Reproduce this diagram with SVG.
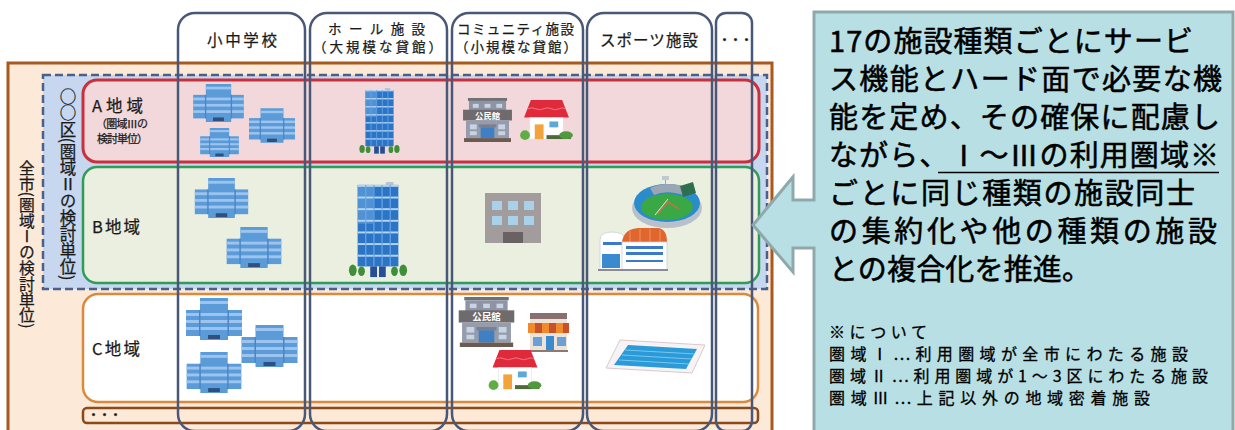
<svg xmlns="http://www.w3.org/2000/svg" xmlns:xlink="http://www.w3.org/1999/xlink" width="1235" height="430" viewBox="0 0 1235 430">
<style>
.t{font-family:"Noto Sans CJK JP","Noto Sans",sans-serif;fill:#1a1a1a;stroke:#1a1a1a;stroke-width:0.25}
.hd{font-size:13.5px}
.hb{font-size:15.5px}
.lb{font-size:16.5px}
.sm{font-size:11px}
.v{writing-mode:vertical-rl}
.col{fill:none;stroke:#4a5878;stroke-width:2.5}
.ct{font-family:"Noto Sans CJK JP","Noto Sans",sans-serif;fill:#000;font-size:29px;stroke:#000;stroke-width:0.55}
.cs{font-family:"Noto Sans CJK JP","Noto Sans",sans-serif;fill:#000;font-size:16px;stroke:#000;stroke-width:0.3}
</style>
<defs>
<symbol id="school" viewBox="0 0 56 42">
<rect x="14" y="0" width="28" height="42" fill="#5b9bd8"/>
<rect x="0" y="12" width="56" height="26" fill="#5b9bd8"/>
<g fill="#9cc4ee">
<rect x="14" y="3" width="28" height="3"/>
<rect x="0" y="15" width="56" height="3"/>
<rect x="0" y="22" width="56" height="3"/>
<rect x="0" y="29" width="56" height="3"/>
</g>
<g fill="#4a86c6"><rect x="13" y="12" width="1.5" height="26"/><rect x="41.5" y="12" width="1.5" height="26"/></g>
<rect x="22" y="37" width="12" height="4" fill="#2f4f7f"/>
</symbol>
<symbol id="tower" viewBox="0 0 60 100">
<rect x="38" y="0" width="8" height="3" fill="#b8c4d0"/>
<rect x="9" y="3" width="42" height="84" fill="#2b74c6"/>
<rect x="9" y="3" width="16" height="40" fill="#6aa6e0" opacity="0.6"/>
<g fill="#b4d4f2">
<rect x="9" y="3" width="42" height="2"/><rect x="9" y="15" width="42" height="2"/><rect x="9" y="27" width="42" height="2"/><rect x="9" y="39" width="42" height="2"/><rect x="9" y="51" width="42" height="2"/><rect x="9" y="63" width="42" height="2"/><rect x="9" y="75" width="42" height="2"/>
</g>
<g stroke="#6aa8e8" stroke-width="1.2"><line x1="17.4" y1="3" x2="17.4" y2="87"/><line x1="25.8" y1="3" x2="25.8" y2="87"/><line x1="34.2" y1="3" x2="34.2" y2="87"/><line x1="42.6" y1="3" x2="42.6" y2="87"/></g>
<rect x="22" y="87" width="7" height="11" fill="#254f96"/>
<rect x="31" y="87" width="7" height="11" fill="#254f96"/>
<g fill="#3f8f3a"><ellipse cx="4" cy="91" rx="4" ry="6"/><ellipse cx="13" cy="92" rx="3.5" ry="5"/><ellipse cx="47" cy="92" rx="3.5" ry="5"/><ellipse cx="56" cy="91" rx="4" ry="6"/></g>
</symbol>
<symbol id="hall" viewBox="0 0 50 45">
<rect x="5" y="0" width="40" height="3" fill="#6f7178"/>
<rect x="6" y="3" width="38" height="10" fill="#8e94a4"/>
<g fill="#c8d4e4"><rect x="10" y="6" width="6" height="4"/><rect x="22" y="6" width="6" height="4"/><rect x="34" y="6" width="6" height="4"/></g>
<rect x="0" y="12" width="50" height="11" fill="#6f6a6c"/>
<text x="25" y="21" text-anchor="middle" font-family="Noto Sans CJK JP,sans-serif" font-size="8.5" font-weight="bold" fill="#fff">公民館</text>
<rect x="3" y="23" width="44" height="18" fill="#959cab"/>
<g fill="#c8d4e4"><rect x="7" y="27" width="7" height="5"/><rect x="36" y="27" width="7" height="5"/><rect x="7" y="34" width="7" height="4"/><rect x="36" y="34" width="7" height="4"/></g>
<rect x="16" y="27" width="18" height="3" fill="#7a8090"/>
<rect x="18" y="30" width="14" height="11" fill="#3f7fc4"/>
<rect x="1" y="41" width="48" height="4" fill="#6c5b52"/>
</symbol>
<symbol id="house" viewBox="0 0 54 42">
<path d="M11 0 H43 L50 18 H4 Z" fill="#e02a3c"/>
<path d="M8 9 q4 -2 8 0 t8 0 t8 0 t8 0 t6 0" stroke="#f27a86" stroke-width="1" fill="none"/>
<rect x="10" y="18" width="34" height="22" fill="#fff" stroke="#e2e2e2" stroke-width="0.6"/>
<rect x="15" y="25" width="9" height="15" fill="#f2a43a"/>
<rect x="30" y="22" width="9" height="6" fill="#5aa8dc"/>
<circle cx="5" cy="36" r="5" fill="#5fae45"/>
<rect x="27" y="36" width="25" height="4" fill="#4d6a3a"/>
<ellipse cx="47" cy="36" rx="7" ry="4" fill="#4f9a3e"/>
</symbol>
</defs>
<rect width="1235" height="430" fill="#fff"/>

<g id="region-zenshi">
<rect x="8" y="63" width="764" height="372" fill="#fde9d8" stroke="#a65a20" stroke-width="3"/>
<text class="t v" x="27" y="160" style="font-size:15.8px">全市(圏域Ⅰの検討単位)</text>
</g>

<g id="region-ku">
<rect x="43" y="75" width="724" height="214" fill="#c6d7ef" stroke="#4a5f8a" stroke-width="2.5" stroke-dasharray="8 4"/>
<text class="t v" x="68" y="88" style="font-size:16.5px">○○区(圏域Ⅱの検討単位)</text>
</g>

<g id="region-a">
<rect x="83" y="80" width="676" height="82" rx="14" fill="#f2d8da" stroke="#c9303d" stroke-width="3"/>
<text class="t lb" x="92" y="112" textLength="51">A地域</text>
<text class="t sm" x="96" y="128" textLength="52">（圏域Ⅲの</text>
<text class="t sm" x="97" y="143" textLength="51">検討単位）</text>
<use xlink:href="#school" x="192" y="84" width="53" height="38"/>
<use xlink:href="#school" x="249" y="108" width="46" height="35"/>
<use xlink:href="#school" x="199" y="128" width="41" height="29"/>
<use xlink:href="#tower" x="359" y="88" width="41" height="67"/>
<use xlink:href="#hall" x="463" y="98" width="49" height="44"/>
<use xlink:href="#house" x="520" y="100" width="53" height="41"/>
</g>

<g id="region-b">
<rect x="83" y="167" width="676" height="116" rx="14" fill="#ebefdf" stroke="#2f9c5a" stroke-width="2.5"/>
<text class="t lb" x="92" y="233" textLength="48">B地域</text>
<use xlink:href="#school" x="193" y="178" width="57" height="40"/>
<use xlink:href="#school" x="226" y="227" width="56" height="41"/>
<use xlink:href="#tower" x="348" y="182" width="60" height="97"/>
<g id="icon-office">
<rect x="485" y="193" width="56" height="50" fill="#a39c9c"/>
<g fill="#a9d1ea"><rect x="492" y="201" width="10" height="9"/><rect x="508" y="201" width="10" height="9"/><rect x="524" y="201" width="10" height="9"/><rect x="492" y="216" width="10" height="9"/><rect x="508" y="216" width="10" height="9"/><rect x="524" y="216" width="10" height="9"/></g>
<rect x="503" y="232" width="20" height="11" fill="#6a6262"/>
</g>
<g id="icon-stadium">
<ellipse cx="667" cy="208" rx="35" ry="20" fill="#b8c0cc"/>
<ellipse cx="667" cy="203" rx="33" ry="19" fill="#2b8ccc"/>
<path d="M650 188 Q667 180 690 188 L686 196 Q667 189 654 195 Z" fill="#9aa6b4"/>
<polygon points="680,186 693,182 696,193 683,197" fill="#2f6e4e"/>
<ellipse cx="667" cy="207" rx="26" ry="13" fill="#3aa844"/>
<path d="M657 214 L668 202 L679 209" stroke="#b07a4a" stroke-width="2" fill="none"/>
<path d="M655 215 L668 199" stroke="#fff" stroke-width="0.8"/>
<rect x="662" y="176" width="7" height="4" fill="#c0c8d0"/>
<line x1="665.5" y1="180" x2="665.5" y2="186" stroke="#98a4b0" stroke-width="1"/>
</g>
<g id="icon-gym">
<path d="M600 270 V240 Q600 232 612 232 Q624 232 626 240 V270 Z" fill="#fff" stroke="#c8d0dc" stroke-width="0.8"/>
<g fill="#3a7ac8"><rect x="603" y="242" width="19" height="3"/></g>
<rect x="602" y="254" width="18" height="14" fill="#3a8ad0"/>
<path d="M622 242 Q624 228 640 228 H658 Q667 229 667 242 Z" fill="#e0662e"/>
<g stroke="#f0a070" stroke-width="0.8"><line x1="630" y1="231" x2="630" y2="242"/><line x1="640" y1="229" x2="640" y2="242"/><line x1="650" y1="229" x2="650" y2="242"/><line x1="660" y1="230" x2="660" y2="242"/></g>
<rect x="622" y="242" width="45" height="28" fill="#fff" stroke="#c8d0dc" stroke-width="0.8"/>
<g fill="#3a7ac8"><rect x="626" y="246" width="37" height="3"/><rect x="626" y="252" width="37" height="3"/><rect x="626" y="260" width="37" height="2"/></g>
<rect x="598" y="269" width="70" height="2" fill="#8a8a9a"/>
</g>
</g>

<g id="region-c">
<rect x="83" y="294" width="675" height="108" rx="15" fill="#fff" stroke="#d98a3c" stroke-width="2.5"/>
<text class="t lb" x="92" y="355" textLength="48">C地域</text>
<use xlink:href="#school" x="186" y="298" width="56" height="42"/>
<use xlink:href="#school" x="241" y="325" width="57" height="42"/>
<use xlink:href="#school" x="186" y="352" width="56" height="41"/>
<use xlink:href="#hall" x="458" y="297" width="57" height="50"/>
<g id="icon-shop">
<rect x="530" y="313" width="37" height="6" fill="#8b6f6f"/>
<rect x="530" y="319" width="37" height="32" fill="#ece2d8"/>
<g><rect x="528" y="323" width="7" height="10" fill="#f08a2a"/><rect x="535" y="323" width="7" height="10" fill="#c8502a"/><rect x="542" y="323" width="7" height="10" fill="#f08a2a"/><rect x="549" y="323" width="7" height="10" fill="#c8502a"/><rect x="556" y="323" width="7" height="10" fill="#f08a2a"/><rect x="563" y="323" width="6" height="10" fill="#c8502a"/></g>
<rect x="533" y="337" width="9" height="9" fill="#6aa0d8"/>
<rect x="546" y="336" width="8" height="15" fill="#3a8ad0"/>
<rect x="557" y="337" width="9" height="9" fill="#6aa0d8"/>
<rect x="529" y="350" width="39" height="2" fill="#8a7a70"/>
</g>
<use xlink:href="#house" x="488" y="350" width="54" height="41"/>
<g id="icon-pool">
<polygon points="620,340 705,345 692,373 606,368" fill="#f6f3f4" stroke="#dcc8cc" stroke-width="1"/>
<polygon points="628,345 697,349 686,369 614,365" fill="#2a9ad8"/>
<g stroke="#8fd0f4" stroke-width="0.8"><line x1="625" y1="350" x2="695" y2="354"/><line x1="622" y1="355" x2="692" y2="359"/><line x1="619" y1="360" x2="689" y2="364"/></g>
</g>
</g>

<g id="region-more">
<rect x="83" y="408" width="675" height="15" rx="4" fill="#fde9d8" stroke="#8a4a1a" stroke-width="2.5"/>
<text class="t" x="88" y="419" style="font-size:11px;font-weight:bold">・・・</text>
</g>

<g id="col-school">
<rect class="col" x="178" y="13" width="127" height="418" rx="17"/>
<text class="t hb" x="207" y="46" textLength="70">小中学校</text>
</g>
<g id="col-hall">
<rect class="col" x="310" y="13" width="137" height="418" rx="17"/>
<text class="t hd" x="328" y="34" textLength="97">ホール施設</text>
<text class="t hd" x="313" y="52" textLength="129">（大規模な貸館）</text>
</g>
<g id="col-community">
<rect class="col" x="452" y="13" width="131" height="418" rx="17"/>
<text class="t hd" x="457" y="34" textLength="117">コミュニティ施設</text>
<text class="t hd" x="455" y="52" textLength="122">（小規模な貸館）</text>
</g>
<g id="col-sports">
<rect class="col" x="587" y="13" width="125" height="418" rx="17"/>
<text class="t hb" x="600" y="46" textLength="98">スポーツ施設</text>
</g>
<g id="col-more">
<rect class="col" x="716" y="13" width="36" height="418" rx="10"/>
<text class="t" x="719" y="44" style="font-size:11px;font-weight:bold">・・・</text>
</g>

<g id="callout">
<path d="M814 12 H1233 V440 H814 V248 H793 V272 L753 225 L793 177 V200 H814 Z" fill="#b8dfe4" stroke="#8fa9ab" stroke-width="3"/>
<text class="ct" x="829" y="52" textLength="364">17の施設種類ごとにサービ</text>
<text class="ct" x="829" y="90" textLength="393">ス機能とハード面で必要な機</text>
<text class="ct" x="829" y="128" textLength="391">能を定め、その確保に配慮し</text>
<text class="ct" x="829" y="166" textLength="390">ながら、Ⅰ～Ⅲの利用圏域※</text>
<line x1="938" y1="172.5" x2="1219" y2="172.5" stroke="#000" stroke-width="1.6"/>
<text class="ct" x="829" y="204" textLength="366">ごとに同じ種類の施設同士</text>
<text class="ct" x="829" y="242" textLength="388">の集約化や他の種類の施設</text>
<text class="ct" x="829" y="280" textLength="262">との複合化を推進。</text>
<text class="cs" x="829" y="338" textLength="98">※について</text>
<text class="cs" x="829" y="360" textLength="359">圏域Ⅰ…利用圏域が全市にわたる施設</text>
<text class="cs" x="829" y="382" textLength="379">圏域Ⅱ…利用圏域が1～3区にわたる施設</text>
<text class="cs" x="829" y="404" textLength="321">圏域Ⅲ…上記以外の地域密着施設</text>
</g>
</svg>
